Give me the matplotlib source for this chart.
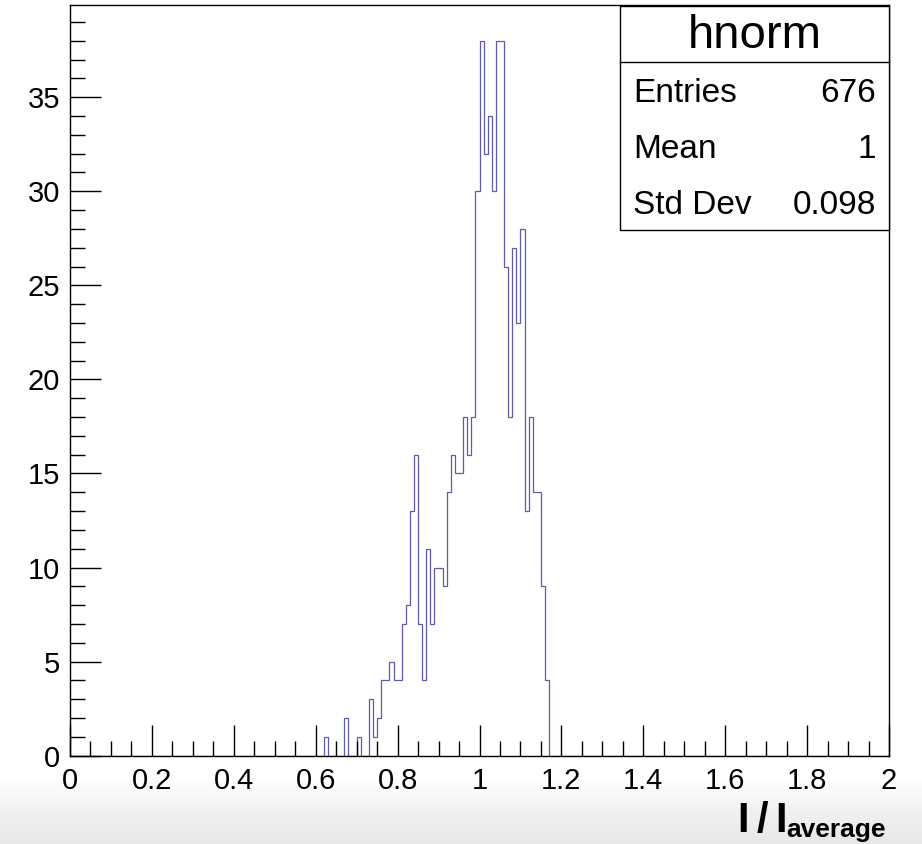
import numpy as np
import matplotlib
matplotlib.use("Agg")
import matplotlib.pyplot as plt
from matplotlib.patches import Rectangle
from matplotlib.colors import LinearSegmentedColormap
from matplotlib.ticker import MultipleLocator, FormatStrFormatter

plt.rcParams['font.family'] = ['Liberation Sans', 'DejaVu Sans']
plt.rcParams['mathtext.fontset'] = 'custom'
plt.rcParams['mathtext.rm'] = 'Liberation Sans'
plt.rcParams['mathtext.bf'] = 'Liberation Sans:bold'
plt.rcParams['mathtext.it'] = 'Liberation Sans:italic'

# ---- data: histogram hnorm, 200 bins on [0, 2] ----
n_bins = 200
x_min, x_max = 0.0, 2.0
bin_low = [0.62, 0.67, 0.70, 0.73, 0.74, 0.75, 0.76, 0.77, 0.78, 0.79,
           0.80, 0.81, 0.82, 0.83, 0.84, 0.85, 0.86, 0.87, 0.88, 0.89,
           0.90, 0.91, 0.92, 0.93, 0.94, 0.95, 0.96, 0.97, 0.98, 0.99,
           1.00, 1.01, 1.02, 1.03, 1.04, 1.05, 1.06, 1.07, 1.08, 1.09,
           1.10, 1.11, 1.12, 1.13, 1.14, 1.15, 1.16]
counts = [1, 2, 1, 3, 1, 2, 4, 4, 5, 4,
          4, 7, 8, 13, 16, 7, 4, 11, 7, 10,
          10, 9, 14, 16, 15, 15, 18, 16, 18, 30,
          38, 32, 34, 30, 38, 38, 26, 18, 27, 23,
          28, 13, 18, 14, 14, 9, 4]

stat_title = "hnorm"
stat_names = ["Entries", "Mean", "Std Dev"]
stat_values = ["676", "1", "0.098"]
xlabel_main = r'$\mathbf{I\:/\:I}$'
xlabel_sub = "average"

edges = np.linspace(x_min, x_max, n_bins + 1)
values = np.zeros(n_bins)
for lo, c in zip(bin_low, counts):
    values[int(round((lo - x_min) / (x_max - x_min) * n_bins))] = c

W, H = 922, 844
fig = plt.figure(figsize=(W / 100, H / 100), dpi=100)
fig.patch.set_facecolor('white')

# bottom grey gradient band (screenshot backdrop)
bg = fig.add_axes([0, 0, 1, 66 / H], zorder=-10)
grad = np.linspace(0, 1, 64)[:, None] * np.ones((1, 200))
cm = LinearSegmentedColormap.from_list('g', ['#ffffff', '#f1f1f1', '#e8e8e8'])
bg.imshow(grad, aspect='auto', cmap=cm, origin='upper', extent=[0, 1, 0, 1])
bg.set_axis_off()

ax = fig.add_axes([70 / W, (H - 755.7) / H, (889 - 70) / W, (755.7 - 5) / H])
ax.stairs(values, edges, color='#5c5ca8', lw=0.9)
ax.set_xlim(x_min, x_max)
ax.set_ylim(0, max(counts) * 1.05)

ax.xaxis.set_major_locator(MultipleLocator(0.2))
ax.xaxis.set_minor_locator(MultipleLocator(0.05))
ax.yaxis.set_major_locator(MultipleLocator(5))
ax.yaxis.set_minor_locator(MultipleLocator(1))
ax.xaxis.set_major_formatter(FormatStrFormatter('%g'))
ax.yaxis.set_major_formatter(FormatStrFormatter('%g'))
ax.tick_params(which='both', direction='in', top=False, right=False,
               labelsize=21, colors='black')
ax.tick_params(which='major', length=22, width=1.0)
ax.tick_params(which='minor', length=11, width=1.0)
ax.tick_params(axis='x', which='major', pad=8)
ax.tick_params(axis='y', which='major', pad=7)
for s in ax.spines.values():
    s.set_linewidth(1.0)
    s.set_color('black')

# x-axis label (bold, right aligned, subscript drawn separately)
fig.text(786 / W, 1 - 832 / H, xlabel_main, ha='right', va='baseline', fontsize=30)
fig.text(786 / W, 1 - 837 / H, xlabel_sub, ha='left', va='baseline',
         fontsize=19, fontweight='bold')

# statistics box
bx0, bx1 = 620 / W, 889 / W
by0, by1 = 1 - 230 / H, 1 - 5.7 / H
ydiv = 1 - 61.7 / H
fig.add_artist(Rectangle((bx0, by0), bx1 - bx0, by1 - by0, transform=fig.transFigure,
                         facecolor='white', edgecolor='black', lw=1.0, zorder=5))
fig.add_artist(plt.Line2D([bx0, bx1], [ydiv, ydiv], transform=fig.transFigure,
                          color='black', lw=1.0, zorder=6))
fig.text((bx0 + bx1) / 2, 1 - 36 / H, stat_title, ha='center', va='center',
         fontsize=34, zorder=7)
row_y = [93, 150, 206]
for name, val, ry in zip(stat_names, stat_values, row_y):
    fig.text(633 / W, 1 - ry / H, name, ha='left', va='center', fontsize=24, zorder=7)
    fig.text(876 / W, 1 - ry / H, val, ha='right', va='center', fontsize=24, zorder=7)

fig.savefig('out.png', dpi=100)
